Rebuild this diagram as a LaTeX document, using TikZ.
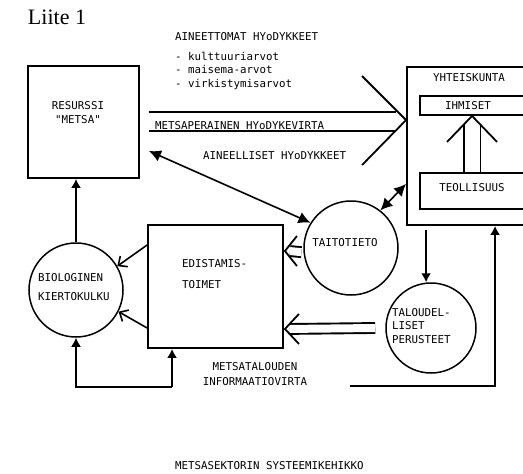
\documentclass[tikz,border=0pt]{standalone}
\usepackage{fontspec}
\setmonofont{DejaVu Sans Mono}
\newfontfamily\liitefont{Liberation Serif}
\usetikzlibrary{arrows.meta,calc,backgrounds}

\begin{document}
\begin{tikzpicture}[
    x=1pt, y=-1pt,
    lbl/.style={font=\ttfamily\fontsize{10.8}{13.5}\selectfont, inner sep=0pt, align=left},
    titlelbl/.style={font=\liitefont\fontsize{22}{24}\selectfont, inner sep=0pt},
    boxnode/.style={rectangle, draw, line width=1.9pt, inner sep=0pt},
    circnode/.style={circle, draw, line width=1.5pt, inner sep=0pt},
    arrow/.style={-{Latex[length=9pt,width=10pt]}, line width=1.6pt},
    duoarrow/.style={{Latex[length=12pt,width=12pt]}-{Latex[length=12pt,width=12pt]}, line width=1.6pt},
    barb/.style={-{Straight Barb[length=7pt,width=13pt]}, line width=1.6pt},
    twinline/.style={double, line width=1.9pt},
    wing/.style={line width=1.8pt}
]
\useasboundingbox (0,0) rectangle (523,474);
\clip (0,0) rectangle (523,474);

% === Boxes and circles ===
\node[boxnode, minimum width=111pt, minimum height=112pt] (resurssi) at (83.5,122) {};
\node[boxnode, minimum width=133pt, minimum height=158pt] (yhteis) at (473.5,146) {};
\node[boxnode, minimum width=120pt, minimum height=19pt] (ihmiset) at (480,105.5) {};
\node[boxnode, minimum width=120pt, minimum height=36pt] (teoll) at (480,191) {};
\node[boxnode, minimum width=135pt, minimum height=123pt] (edist) at (215.5,286.5) {};
\node[circnode, minimum size=94pt] (taito) at (351,248) {};
\node[circnode, minimum size=90pt] (talous) at (431,328) {};
\node[circnode, minimum size=94pt] (bio) at (76,290) {};

% === Texts ===
\node[titlelbl] (liite) at (57,17) {Liite 1};
\node[lbl, anchor=west] (aineett-lbl) at (175,37) {AINEETTOMAT HYoDYKKEET};
\node[lbl, anchor=north west] (arvot-lbl) at (175,52) {- kulttuuriarvot\\- maisema-arvot\\- virkistymisarvot};
\node[lbl, align=center] (resurssi-lbl) at (78,112.5) {RESURSSI\\"METSA"};
\node[lbl] (yhteis-lbl) at (469,78) {YHTEISKUNTA};
\node[lbl] (ihmiset-lbl) at (468,106) {IHMISET};
\node[lbl] (teoll-lbl) at (472,188) {TEOLLISUUS};
\node[lbl, anchor=west] (virta-lbl) at (155,126) {METSAPERAINEN HYoDYKEVIRTA};
\node[lbl, anchor=west] (aineell-lbl) at (203,156) {AINEELLISET HYoDYKKEET};
\node[lbl] (taito-lbl) at (345,243) {TAITOTIETO};
\node[lbl, anchor=west] (edist-lbl) at (182,274.5) {EDISTAMIS-\\[7.5pt]TOIMET};
\node[lbl, anchor=west] (bio-lbl) at (38,287.5) {BIOLOGINEN\\[5.5pt]KIERTOKULKU};
\node[lbl, anchor=west] (talous-lbl) at (392,326) {TALOUDEL-\\LISET\\PERUSTEET};
\node[lbl, align=center] (info-lbl) at (255,374.5) {METSATALOUDEN\\[1.5pt]INFORMAATIOVIRTA};
\node[lbl, anchor=west] (kehikko-lbl) at (175,466) {METSASEKTORIN SYSTEEMIKEHIKKO};

% === Points for the flows ===
\coordinate (flow-start) at ($(resurssi.north east)+(9,56.5)$);
\coordinate (flow-tip) at ($(yhteis.north west)+(0,54)$);
\coordinate (taito-tip) at ($(edist.north east)+(1,27)$);
\coordinate (talous-tip) at ($(edist.south east)+(1,-20)$);
\coordinate (teoll-tip) at ($(ihmiset.south west)+(53,0)$);
\coordinate (yt-out) at ($(yhteis.south west)+(20,4)$);
\coordinate (info-l) at ($(edist.south west)+(25,38)$);
\coordinate (info-r) at (350,386);

% === Double line flows ===
\begin{scope}[on background layer]
    \draw[twinline, double distance=17pt] (flow-start) -- ($(flow-tip)+(-10,1.5)$);
    \draw[twinline, double distance=8pt] ($(taito.185)+(-2,0)$) -- ($(taito-tip)+(5,0)$);
    \draw[twinline, double distance=8pt] ($(talous.west)+(-10,0)$) -- ($(talous-tip)+(5,0)$);
    \draw[twinline, double distance=15pt] (teoll-tip |- teoll.north) -- ($(teoll-tip)+(0,9)$);
\end{scope}
\draw[wing] ($(flow-tip)+(-44,-44)$) -- (flow-tip) -- ($(flow-tip)+(-44,45)$);
\draw[wing] ($(taito-tip)+(12,-15)$) -- (taito-tip) -- ($(taito-tip)+(12,15)$);
\draw[wing] ($(talous-tip)+(14,-15)$) -- (talous-tip) -- ($(talous-tip)+(14,15)$);
\draw[wing] ($(teoll-tip)+(-25,26)$) -- (teoll-tip) -- ($(teoll-tip)+(25,26)$);

% === Single arrows ===
\draw[arrow] (bio.north) -- (bio.north |- resurssi.south);
\draw[barb] ($(edist.north west)+(0,21)$) -- (bio.30);
\draw[barb] ($(edist.south west)+(0,-21)$) -- (bio.-27);
\draw[duoarrow] ($(resurssi.south east)+(9,-28)$) -- (taito.148);
\draw[duoarrow] (taito.52) -- ($(yhteis.south west)+(0,-42)$);
\draw[arrow] (yt-out) -- (yt-out |- talous.north);

% information flow at the bottom
\draw[arrow] (info-l) -- (info-l |- edist.south);
\draw[arrow] (info-l) -| (bio.south);
\draw[arrow] (info-r) -| ($(yhteis.south west)+(89,0)$);

\end{tikzpicture}
\end{document}
